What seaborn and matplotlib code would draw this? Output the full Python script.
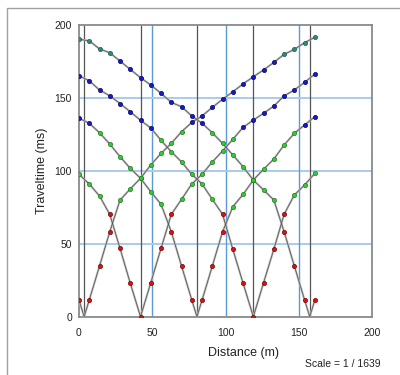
import numpy as np
import pandas as pd
import matplotlib
matplotlib.use("Agg")
import matplotlib.pyplot as plt
import seaborn as sns

# receiver positions (m) and shot positions (m)
receivers = [0, 7, 14, 21, 28, 35, 42, 49, 56, 63, 70, 77,
             84, 91, 98, 105, 112, 119, 126, 133, 140, 147, 154, 161]
shots = [3.5, 42, 80.5, 119, 157.5]

# picked traveltimes (ms) per shot, one value per receiver
t_shot1 = [11.4, 11.4, 34.7, 58.2, 79.9, 87.5, 94.8, 103.9, 111.9, 118.7, 126.7, 133.1,
           137.5, 143.4, 148.9, 154.1, 159.4, 164.4, 169.0, 174.2, 179.7, 183.1, 187.7, 191.4]
t_shot2 = [97.5, 90.9, 82.7, 70.1, 46.8, 22.9, 0.0, 23.3, 46.8, 70.1, 80.4, 90.9,
           97.5, 106.0, 113.5, 121.5, 129.7, 134.7, 139.3, 144.3, 151.2, 155.3, 160.5, 166.2]
t_shot3 = [135.9, 132.5, 126.0, 118.3, 109.6, 101.6, 94.8, 85.6, 77.0, 58.2, 34.7, 11.4,
           11.4, 34.7, 58.2, 75.3, 83.8, 93.6, 101.0, 108.0, 117.6, 125.6, 131.3, 137.0]
t_shot4 = [165.0, 161.6, 155.3, 151.3, 146.0, 140.4, 134.5, 129.3, 120.8, 113.0, 106.0, 97.5,
           90.9, 80.4, 70.1, 46.2, 22.9, 0.0, 23.3, 46.2, 70.1, 83.4, 90.2, 98.2]
t_shot5 = [190.0, 189.0, 183.4, 180.8, 175.1, 169.4, 163.7, 158.7, 153.0, 146.8, 143.8, 137.5,
           132.5, 126.0, 118.7, 110.8, 102.7, 93.6, 86.8, 79.9, 58.2, 34.7, 11.4, 11.4]
times = [t_shot1, t_shot2, t_shot3, t_shot4, t_shot5]

ticks = [0, 50, 100, 150, 200]

# long table of picks
rows = []
for i, (s, tt) in enumerate(zip(shots, times)):
    for x, t in zip(receivers, tt):
        rows.append({"shot": i, "x": x, "t": t})
df = pd.DataFrame(rows)

# layer assignment shown by marker colour
def layer(t):
    if t < 73:
        return "1"
    if t < 128:
        return "2"
    if t < 177:
        return "3"
    return "4"
df["layer"] = df["t"].apply(layer)

# line data includes the shot point at zero time
lines = pd.concat([df[["shot", "x", "t"]],
                   pd.DataFrame({"shot": range(len(shots)), "x": shots, "t": 0.0})])
lines = lines.drop_duplicates().sort_values(["shot", "x"])

sns.set_style("white")
plt.rcParams["font.family"] = ["Liberation Sans", "DejaVu Sans"]

fig = plt.figure(figsize=(4, 3.75), dpi=100)
ax = fig.add_axes([0.1975, 0.1555, 0.7325, 0.7786])

# outer frame of the window
fig.patches.append(plt.Rectangle((7 / 400, -0.1), 1.2, 1 - 8 / 375 + 0.1,
                                 transform=fig.transFigure, fill=False,
                                 edgecolor="#a0a0a0", lw=1.0))

# blue grid
for g in [50, 100, 150]:
    ax.axvline(g, color="#5b9bd5", lw=1.0, zorder=1)
    ax.axhline(g, color="#a9cbee", lw=1.4, zorder=1)

# shot positions
for s in shots:
    ax.axvline(s, color="#555555", lw=0.9, zorder=2)

# traveltime curves
sns.lineplot(data=lines, x="x", y="t", units="shot", estimator=None, sort=False,
             color="#b4b4b4", lw=1.5, ax=ax, zorder=3)
sns.lineplot(data=lines, x="x", y="t", units="shot", estimator=None, sort=False,
             color="#404040", lw=0.4, ax=ax, zorder=4)

pal = {"1": "#dd1111", "2": "#33cc33", "3": "#1a1acc", "4": "#2e8b7a"}
edges = {"1": "#7a0000", "2": "#1a7a1a", "3": "#000070", "4": "#1d5a50"}
for lay, sub in df.groupby("layer"):
    sns.scatterplot(data=sub, x="x", y="t", color=pal[lay], edgecolor=edges[lay],
                    s=9, linewidth=0.5, ax=ax, zorder=5, legend=False)

ax.set_xlim(0, 200)
ax.set_ylim(0, 200)
ax.set_xticks(ticks)
ax.set_yticks(ticks)
ax.tick_params(axis="both", labelsize=7.5, colors="#222222", length=3, width=0.8,
               direction="out")
ax.tick_params(axis="x", pad=5.5)
ax.tick_params(axis="y", pad=2)
for sp in ax.spines.values():
    sp.set_color("#8a8a8a")
    sp.set_linewidth(1.3)
ax.set_xlabel("")
ax.set_ylabel("")

fig.text(41.7 / 400, 1 - 170.7 / 375, "Traveltime (ms)", rotation=90,
         ha="center", va="center", fontsize=9, color="#222222")
fig.text(243 / 400, 1 - 353 / 375, "Distance (m)", ha="center", va="center",
         fontsize=9, color="#222222")
fig.text(343 / 400, 1 - 364 / 375, "Scale = 1 / 1639", ha="center", va="center",
         fontsize=7.5, color="#222222")

fig.savefig("out.png", dpi=100)
